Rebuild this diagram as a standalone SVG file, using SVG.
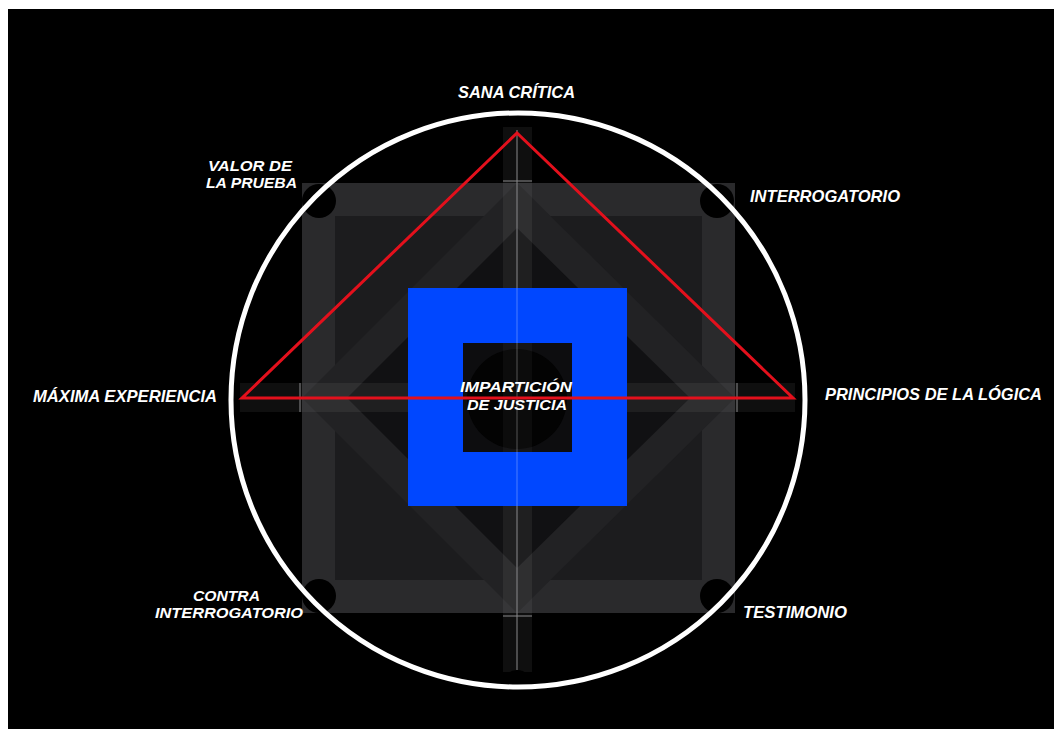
<svg xmlns="http://www.w3.org/2000/svg" width="1054" height="729" viewBox="0 0 1054 729">
<style>
.lbl{font-family:"Liberation Sans",Arial,sans-serif;font-style:italic;font-weight:bold;fill:#ffffff;}
.tick{stroke:#8a8a8c;stroke-width:1;fill:none;}
.hole{fill:#000;}
</style>
<rect x="0" y="0" width="1054" height="729" fill="#ffffff"/>
<rect x="8" y="9" width="1046" height="720" fill="#000000"/>
<g id="structure">
<rect x="302" y="183" width="433" height="430" fill="#1c1c1e"/>
<rect x="318.5" y="199.5" width="400" height="397" fill="none" stroke="#2a2a2c" stroke-width="33"/>
<polygon points="517,183 735,398 517,613 302,398" fill="#222224"/>
<polygon points="517,228 690,398 517,568 347,398" fill="#111113"/>
<rect x="503" y="127" width="29" height="545" fill="#ffffff" fill-opacity="0.06"/>
<rect x="240" y="383" width="555" height="29" fill="#ffffff" fill-opacity="0.06"/>
<line class="tick" x1="517" y1="130" x2="517" y2="670"/>
<line class="tick" x1="503" y1="181" x2="532" y2="181"/>
<line class="tick" x1="503" y1="616" x2="532" y2="616"/>
<line class="tick" x1="300" y1="383" x2="300" y2="412"/>
<line class="tick" x1="737" y1="383" x2="737" y2="412"/>
<circle class="hole" cx="319" cy="201" r="17"/>
<circle class="hole" cx="717" cy="201" r="17"/>
<circle class="hole" cx="319" cy="596" r="17"/>
<circle class="hole" cx="717" cy="596" r="17"/>
<circle class="hole" cx="517" cy="685" r="15"/>
</g>
<g id="ring">
<circle cx="518" cy="400" r="287" fill="none" stroke="#ffffff" stroke-width="5"/>
</g>
<g id="center">
<rect x="408" y="288" width="219" height="218" fill="#0047ff"/>
<rect x="463" y="343" width="109" height="109" fill="#0d0d0f"/>
<circle cx="517" cy="399" r="50" fill="#030303"/>
<rect x="503" y="343" width="29" height="109" fill="#ffffff" fill-opacity="0.04"/>
<line x1="517" y1="288" x2="517" y2="506" stroke="#ffffff" stroke-opacity="0.3" stroke-width="1"/>
</g>
<g id="triangle">
<polygon points="517,133 242,398 793,398" fill="none" stroke="#e3101c" stroke-width="3" stroke-linejoin="miter"/>
</g>
<g id="labels">
<g id="sana-critica"><text class="lbl" x="458" y="98" font-size="17" textLength="117" lengthAdjust="spacingAndGlyphs">SANA CRÍTICA</text></g>
<g id="valor-prueba"><text class="lbl" x="208" y="171" font-size="15" textLength="84" lengthAdjust="spacingAndGlyphs">VALOR DE</text>
<text class="lbl" x="206" y="188" font-size="15" textLength="91" lengthAdjust="spacingAndGlyphs">LA PRUEBA</text></g>
<g id="interrogatorio"><text class="lbl" x="750" y="202" font-size="17" textLength="150" lengthAdjust="spacingAndGlyphs">INTERROGATORIO</text></g>
<g id="maxima"><text class="lbl" x="33" y="402" font-size="17" textLength="184" lengthAdjust="spacingAndGlyphs">MÁXIMA EXPERIENCIA</text></g>
<g id="principios"><text class="lbl" x="825" y="400" font-size="17" textLength="217" lengthAdjust="spacingAndGlyphs">PRINCIPIOS DE LA LÓGICA</text></g>
<g id="contra"><text class="lbl" x="193" y="601" font-size="15" textLength="67" lengthAdjust="spacingAndGlyphs">CONTRA</text>
<text class="lbl" x="155" y="618" font-size="15" textLength="148" lengthAdjust="spacingAndGlyphs">INTERROGATORIO</text></g>
<g id="testimonio"><text class="lbl" x="743" y="618" font-size="17" textLength="104" lengthAdjust="spacingAndGlyphs">TESTIMONIO</text></g>
<g id="imparticion"><text class="lbl" x="460" y="392" font-size="15.5" textLength="112" lengthAdjust="spacingAndGlyphs">IMPARTICIÓN</text>
<text class="lbl" x="467" y="410" font-size="15.5" textLength="100" lengthAdjust="spacingAndGlyphs">DE JUSTICIA</text></g>
</g>
</svg>
